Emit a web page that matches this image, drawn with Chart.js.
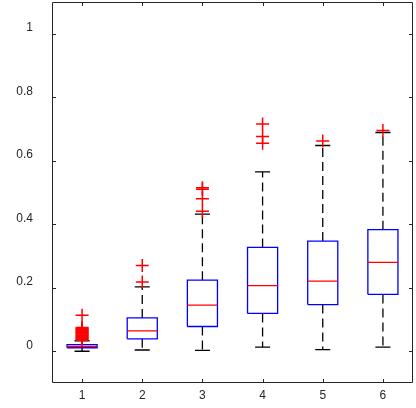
<!DOCTYPE html>
<html>
<head>
<meta charset="utf-8">
<script src="https://cdn.jsdelivr.net/npm/chart.js@4/dist/chart.umd.min.js"></script>
<style>
    html, body { margin: 0; padding: 0; background: #fff; }
    #wrap { width: 416px; height: 408px; }
</style>
</head>
<body>
<div id="wrap"><canvas id="boxCanvas"></canvas></div>
<script>
const categories = [1, 2, 3, 4, 5, 6];
const lowerWhisker = [0.0, 0.004, 0.003, 0.013, 0.005, 0.013];
const q1 = [0.011, 0.039, 0.078, 0.119, 0.147, 0.179];
const median = [0.015, 0.064, 0.145, 0.207, 0.221, 0.280];
const q3 = [0.021, 0.105, 0.224, 0.327, 0.347, 0.383];
const upperWhisker = [0.033, 0.203, 0.432, 0.565, 0.648, 0.689];
const outliers = [
    [0.035, 0.037, 0.040, 0.042, 0.044, 0.047, 0.049, 0.051, 0.054, 0.056,
     0.058, 0.061, 0.063, 0.065, 0.068, 0.070, 0.072, 0.075, 0.113],
    [0.218, 0.270],
    [0.441, 0.480, 0.510, 0.515],
    [0.655, 0.676, 0.716],
    [0.662],
    [0.695],
];
const yTicks = [0, 0.2, 0.4, 0.6, 0.8, 1];

const boxHalf = 0.25;
const capHalf = 0.125;

// each group of points becomes its own line piece, split by a null point
function pieces(build) {
    const pts = [];
    categories.forEach((c, i) => {
        build(c, i).forEach(seg => {
            pts.push(...seg, { x: c, y: null });
        });
    });
    return pts;
}

const boxPts = pieces((c, i) => [[
    { x: c - boxHalf, y: q1[i] }, { x: c + boxHalf, y: q1[i] },
    { x: c + boxHalf, y: q3[i] }, { x: c - boxHalf, y: q3[i] },
    { x: c - boxHalf, y: q1[i] },
]]);
const medianPts = pieces((c, i) => [[
    { x: c - boxHalf, y: median[i] }, { x: c + boxHalf, y: median[i] },
]]);
const whiskerPts = pieces((c, i) => [
    [{ x: c, y: q3[i] }, { x: c, y: upperWhisker[i] }],
    [{ x: c, y: q1[i] }, { x: c, y: lowerWhisker[i] }],
]);
const capPts = pieces((c, i) => [
    [{ x: c - capHalf, y: upperWhisker[i] }, { x: c + capHalf, y: upperWhisker[i] }],
    [{ x: c - capHalf, y: lowerWhisker[i] }, { x: c + capHalf, y: lowerWhisker[i] }],
]);
const outlierPts = [];
categories.forEach((c, i) => outliers[i].forEach(v => outlierPts.push({ x: c, y: v })));

const lineBase = {
    pointRadius: 0,
    borderWidth: 1.3,
    spanGaps: false,
    tension: 0,
    fill: false,
    borderJoinStyle: 'miter',
};

// matlab style frame with inward ticks on all four sides
const framePlugin = {
    id: 'frame',
    beforeDatasetsDraw(chart) {
        const { ctx, chartArea: a, scales } = chart;
        const t = 4;
        ctx.save();
        ctx.strokeStyle = '#262626';
        ctx.lineWidth = 1;
        ctx.beginPath();
        ctx.rect(a.left + 0.5, a.top + 0.5, a.right - a.left - 1, a.bottom - a.top - 1);
        categories.forEach(v => {
            const px = Math.round(scales.x.getPixelForValue(v)) + 0.5;
            ctx.moveTo(px, a.bottom);
            ctx.lineTo(px, a.bottom - t);
            ctx.moveTo(px, a.top);
            ctx.lineTo(px, a.top + t);
        });
        yTicks.forEach(v => {
            const py = Math.round(scales.y.getPixelForValue(v)) + 0.5;
            ctx.moveTo(a.left, py);
            ctx.lineTo(a.left + t, py);
            ctx.moveTo(a.right, py);
            ctx.lineTo(a.right - t, py);
        });
        ctx.stroke();
        ctx.restore();
    },
};

// keep the plot area fixed; labels are allowed to hang past it
function noPadding(s) {
    s.paddingTop = 0;
    s.paddingBottom = 0;
    s.paddingLeft = 0;
    s.paddingRight = 0;
}

new Chart(document.getElementById('boxCanvas'), {
    type: 'line',
    data: {
        datasets: [
            {
                label: 'Outliers',
                data: outlierPts,
                showLine: false,
                pointStyle: 'cross',
                pointRadius: 6.5,
                pointBorderWidth: 1.5,
                pointBorderColor: '#ff0000',
                pointBackgroundColor: '#ff0000',
            },
            { ...lineBase, label: 'Median', data: medianPts, borderColor: '#ff0000' },
            { ...lineBase, label: 'Box', data: boxPts, borderColor: '#0000ff' },
            { ...lineBase, label: 'Caps', data: capPts, borderColor: '#000000' },
            { ...lineBase, label: 'Whiskers', data: whiskerPts, borderColor: '#000000', borderDash: [9, 5] },
        ],
    },
    options: {
        responsive: true,
        maintainAspectRatio: false,
        animation: false,
        layout: { autoPadding: false, padding: { top: 2, right: 3, left: 0, bottom: 0 } },
        plugins: {
            legend: { display: false },
            tooltip: { enabled: false },
        },
        scales: {
            x: {
                type: 'linear',
                min: 0.5,
                max: 6.5,
                afterBuildTicks: s => { s.ticks = categories.map(v => ({ value: v })); },
                afterFit: s => { s.height = 25; noPadding(s); },
                grid: { display: false, drawTicks: false },
                border: { display: false },
                ticks: {
                    padding: 5,
                    color: '#262626',
                    font: { family: 'Liberation Sans', size: 12 },
                    maxRotation: 0,
                    callback: v => String(v),
                },
            },
            y: {
                type: 'linear',
                min: -0.1,
                max: 1.1,
                afterBuildTicks: s => { s.ticks = yTicks.map(v => ({ value: v })); },
                afterFit: s => { s.width = 52; noPadding(s); },
                grid: { display: false, drawTicks: false },
                border: { display: false },
                ticks: {
                    padding: 19,
                    labelOffset: -6,
                    color: '#262626',
                    font: { family: 'Liberation Sans', size: 12 },
                    callback: v => String(v),
                },
            },
        },
    },
    plugins: [framePlugin],
});
</script>
</body>
</html>
